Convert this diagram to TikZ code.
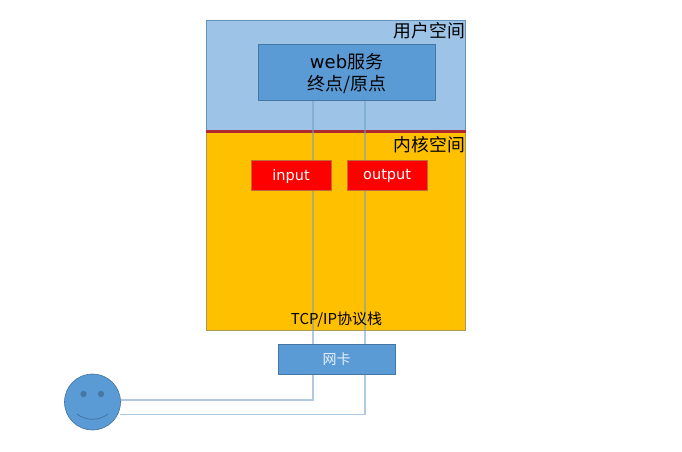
\documentclass[tikz,border=0pt]{standalone}
\usepackage{fontspec}
\setmainfont{Noto Sans CJK SC}
\newfontfamily\latinf{DejaVu Sans}
\definecolor{usr}{HTML}{9DC3E6}
\definecolor{blu}{HTML}{5B9BD5}
\definecolor{edgeb}{HTML}{41719C}
\definecolor{ker}{HTML}{FFC000}
\definecolor{kedge}{HTML}{A89A55}
\definecolor{redl}{HTML}{AE2A30}
\definecolor{wire}{HTML}{6F9FC8}
\newcommand{\lowertext}[2]{\raisebox{0pt}[\dimexpr\height+#1\relax][\depth]{#2}}
\pgfdeclarelayer{base}
\pgfdeclarelayer{wires}
\pgfsetlayers{base,wires,main}
\tikzset{
 x=1pt,y=-1pt,
 region/.style={draw=#1,line width=0.8pt,inner sep=0pt,anchor=north west},
 block/.style={draw=edgeb!85!blu,line width=0.8pt,fill=blu,inner sep=0pt,anchor=north west,align=center},
 redbox/.style={draw=kedge!70!red,line width=0.8pt,fill=red,text=white,inner sep=0pt,anchor=north west,font=\latinf\fontsize{14.5}{16}\selectfont},
 wireline/.style={draw=wire,draw opacity=0.55,line width=1.1pt},
 spacelabel/.style={inner sep=0pt,anchor=north east,font=\fontsize{17.8}{20}\selectfont},
}
\begin{document}
\begin{tikzpicture}
\useasboundingbox (0,0) rectangle (682,451);
\begin{pgfonlayer}{base}
\fill[white] (0,0) rectangle (682,451);
\node[region=edgeb!60!usr,fill=usr,minimum width=259pt,minimum height=111pt] (user) at (205.8,19.5) {};
\node[region=kedge,fill=ker,minimum width=259pt,minimum height=199pt] (kernel) at (205.8,131) {};
\draw[redl,line width=3pt] (user.south west) -- (user.south east);
\end{pgfonlayer}
\node[block,minimum width=177pt,minimum height=56pt,font=\fontsize{18}{22}\selectfont] (web) at (257.7,44) {\lowertext{6pt}{\begin{tabular}{@{}c@{}}{\latinf web}服务\\终点/原点\end{tabular}}};
\node[block,minimum width=117pt,minimum height=30pt,text=white!85!blu,font=\fontsize{14}{16}\selectfont] (nic) at (277.7,344) {网卡};
\node[circle,draw=edgeb,line width=0.6pt,fill=blu,minimum size=56pt,inner sep=0pt] (face) at (92.5,402) {};
\fill[edgeb!85!blu] (83.5,394) circle (3.2pt) (101,394) circle (3.2pt);
\draw[edgeb,line width=0.7pt] (77,414) .. controls (86,421) and (99,421) .. (108,414);
\coordinate (inBend) at (313,400);
\coordinate (outBend) at (365,414.5);
\begin{pgfonlayer}{wires}
\draw[wireline] (inBend |- web.south) -- (inBend) -- (face.east |- inBend);
\draw[wireline] (outBend |- web.south) -- (outBend) -- (119.5,414.5);
\end{pgfonlayer}
\node[redbox,minimum width=80pt,minimum height=30pt] (input) at (250.7,160) {\lowertext{2pt}{input}};
\node[redbox,minimum width=80pt,minimum height=30pt] (output) at (346.7,160) {\lowertext{2pt}{output}};
\node[spacelabel] (ulabel) at (465,22) {用户空间};
\node[spacelabel] (klabel) at (465,136) {内核空间};
\node[inner sep=0pt,font=\fontsize{15}{17}\selectfont] (stack) at (336.5,320) {TCP/IP协议栈};
\end{tikzpicture}
\end{document}
